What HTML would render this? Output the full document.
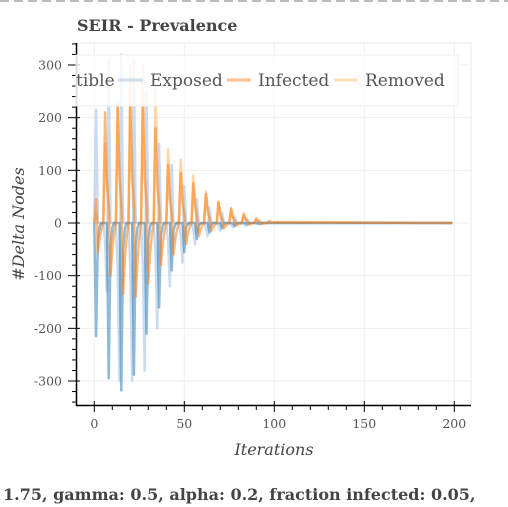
<!DOCTYPE html>
<html><head><meta charset="utf-8"><style>
html,body{margin:0;padding:0;background:#fff;width:508px;height:507px;overflow:hidden}
svg{display:block}
text{font-family:"DejaVu Serif","Liberation Serif",serif}
</style></head><body>
<svg id="chart" width="508" height="507">
<line x1="0" y1="1" x2="508" y2="1" stroke="#bbb" stroke-width="2" stroke-dasharray="9,5"/>
<text x="77" y="31" font-size="16" font-weight="bold" fill="#444">SEIR - Prevalence</text>
<defs><clipPath id="pc"><rect x="77" y="43" width="394" height="362"/></clipPath></defs>
<rect x="77" y="43" width="394" height="362" fill="none" stroke="#e8e8e8"/>
<g id="grid"></g>
<g id="series" clip-path="url(#pc)"></g>
<g id="axes"></g>
<g>
<rect x="76" y="55" width="382" height="51" fill="#fff" fill-opacity="0.8" stroke="#eee"/>
<text x="76" y="86" font-size="17" fill="#555">tible</text>
<line x1="118" y1="80" x2="143" y2="80" stroke="#aec7e8" stroke-width="3" opacity="0.6"/>
<text x="150" y="86" font-size="17" fill="#555">Exposed</text>
<line x1="227" y1="80" x2="251" y2="80" stroke="#ff7f0e" stroke-width="3" opacity="0.5"/>
<text x="258" y="86" font-size="17" fill="#555">Infected</text>
<line x1="334" y1="80" x2="358" y2="80" stroke="#ffbb78" stroke-width="3" opacity="0.5"/>
<text x="365" y="86" font-size="17" fill="#555">Removed</text>
</g>
<text x="274" y="455" font-size="16" font-style="italic" fill="#444" text-anchor="middle">Iterations</text>
<text transform="translate(24,224) rotate(-90)" font-size="16" font-style="italic" fill="#444" text-anchor="middle">#Delta Nodes</text>
<text x="3" y="500" font-size="16" font-weight="bold" fill="#444">1.75, gamma: 0.5, alpha: 0.2, fraction infected: 0.05,</text>
</svg>
<script>
const iterations=[0,1,2,3,4,5,6,7,8,9,10,11,12,13,14,15,16,17,18,19,20,21,22,23,24,25,26,27,28,29,30,31,32,33,34,35,36,37,38,39,40,41,42,43,44,45,46,47,48,49,50,51,52,53,54,55,56,57,58,59,60,61,62,63,64,65,66,67,68,69,70,71,72,73,74,75,76,77,78,79,80,81,82,83,84,85,86,87,88,89,90,91,92,93,94,95,96,97,98,199];
const susceptible=[0,-215,-32,-6,0,0,0,0,-295,-44,-9,0,0,0,0,-318,-48,-10,0,0,0,0,-288,-43,-9,0,0,0,0,-210,-32,-6,0,0,0,0,-160,-24,-5,0,0,0,0,-90,-14,-3,0,0,0,0,-55,-8,-2,0,0,0,0,-30,-5,-1,0,0,0,0,-18,-3,0,0,0,0,0,-10,-2,0,0,0,0,0,-6,-1,0,0,0,0,0,-3,0,0,0,0,0,0,-2,0,0,0,0,0,0,0];
const exposed=[0,215,0,0,0,0,-39,-130,310,0,0,0,0,-90,-300,320,0,0,0,0,-90,-300,310,0,0,0,0,-84,-280,250,0,0,0,0,-60,-200,150,0,0,0,0,-36,-120,110,0,0,0,0,-22,-75,70,0,0,0,0,-12,-40,45,0,0,0,0,-8,-25,30,0,0,0,0,-5,-15,20,0,0,0,0,-2,-8,12,0,0,0,0,-2,-5,8,0,0,0,0,-1,-3,5,0,0,0,0,0,0,0];
const infected=[0,45,-55,-28,-11,0,210,84,32,-100,-50,-20,0,220,88,33,-135,-68,-27,0,220,88,33,-140,-70,-28,0,220,88,33,-115,-58,-23,0,180,72,27,-80,-40,-16,0,110,44,17,-60,-30,-12,0,95,38,14,-40,-20,-8,0,75,30,11,-25,-12,-5,0,55,22,8,-15,-8,-3,0,40,16,6,-10,-5,-2,0,28,11,4,-5,-2,-1,0,18,7,3,-3,-1,0,0,8,3,1,-2,-1,0,0,3,1,0];
const removed=[0,20,0,0,0,0,150,75,30,0,0,0,0,230,115,46,0,0,0,0,300,150,60,0,0,0,0,300,150,60,0,0,0,0,260,130,52,0,0,0,0,140,70,28,0,0,0,0,120,60,24,0,0,0,0,90,45,18,0,0,0,0,60,30,12,0,0,0,0,40,20,8,0,0,0,0,25,12,5,0,0,0,0,15,8,3,0,0,0,0,8,4,2,0,0,0,0,4,2,0];
const xTicks=[0,50,100,150,200];
const yTicks=[-300,-200,-100,0,100,200,300];
const NS='http://www.w3.org/2000/svg';
function X(v){return 94.3+v*1.8;}
function Y(v){return 223-v*0.5267;}
function mk(tag,attrs,parent){const e=document.createElementNS(NS,tag);for(const k in attrs)e.setAttribute(k,attrs[k]);parent.appendChild(e);return e;}
const grid=document.getElementById('grid'),axes=document.getElementById('axes'),ser=document.getElementById('series');
xTicks.forEach(t=>{const g=mk('line',{x1:X(t),x2:X(t),y1:43,y2:405,stroke:'#eee'},grid);

});
yTicks.forEach(t=>{const g=mk('line',{x1:77,x2:471,y1:Y(t),y2:Y(t),stroke:'#eee'},grid);

});
const series=[[removed,'#ffbb78',0.6,'removed-line'],[exposed,'#aec7e8',0.65,'exposed-line'],[susceptible,'#1f77b4',0.5,'susceptible-line'],[infected,'#ff7f0e',0.55,'infected-line']];
series.forEach(s=>{const d=s[0].map((v,i)=>(i?'L':'M')+X(iterations[i]).toFixed(1)+' '+Y(v).toFixed(1)).join(' ');
const p=mk('path',{d:d,fill:'none',stroke:s[1],'stroke-width':2.5,'stroke-opacity':s[2],'stroke-linejoin':'round'},ser);

});
const xa=mk('line',{x1:76,x2:471,y1:405.5,y2:405.5,stroke:'#000','stroke-width':1.5},axes);


const ya=mk('line',{x1:76.5,x2:76.5,y1:43,y2:406,stroke:'#000','stroke-width':1.5},axes);


for(let v=-10;v<=210;v+=10){if(X(v)<77||X(v)>471)continue;const maj=v%50===0;
const t=mk('line',{x1:X(v),x2:X(v),y1:maj?401:406,y2:maj?412:410,stroke:'#000'},axes);

}
for(let v=-340;v<=340;v+=20){if(Y(v)<43||Y(v)>405)continue;const maj=v%100===0;
const t=mk('line',{x1:maj?68:72,x2:maj?80:76,y1:Y(v),y2:Y(v),stroke:'#000'},axes);

}
xTicks.forEach(t=>{const e=mk('text',{x:X(t),y:428,'font-size':12.5,fill:'#555','text-anchor':'middle'},axes);e.textContent=t;

});
yTicks.forEach(t=>{const e=mk('text',{x:62,y:Y(t)+4.5,'font-size':12.5,fill:'#555','text-anchor':'end'},axes);e.textContent=t;

});
</script>
</body></html>
